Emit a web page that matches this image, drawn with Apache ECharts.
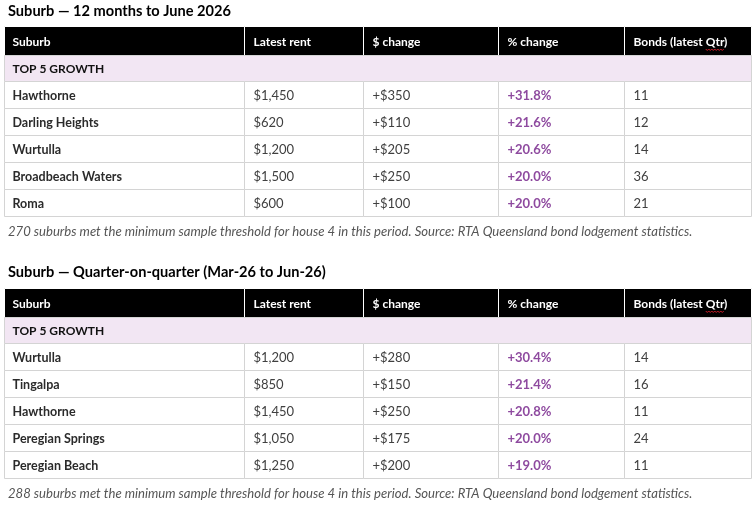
<!DOCTYPE html>
<html>
<head>
<meta charset="utf-8">
<script src="https://cdn.jsdelivr.net/npm/echarts@6/dist/echarts.min.js"></script>
<style>
  html, body { margin: 0; padding: 0; background: #fff; }
  #chart { width: 755px; height: 505px; }
</style>
</head>
<body>
<div id="chart"></div>
<script>
var columns = ['Suburb', 'Latest rent', '$ change', '% change', 'Bonds (latest Qtr)'];
var groupLabel = 'TOP 5 GROWTH';

var annualTitle = 'Suburb \u2014 12 months to June 2026';
var annualSuburbs = ['Hawthorne', 'Darling Heights', 'Wurtulla', 'Broadbeach Waters', 'Roma'];
var annualRent = [1450, 620, 1200, 1500, 600];
var annualDollarChange = [350, 110, 205, 250, 100];
var annualPctChange = [31.8, 21.6, 20.6, 20.0, 20.0];
var annualBonds = [11, 12, 14, 36, 21];
var annualNote = '270 suburbs met the minimum sample threshold for house 4 in this period. Source: RTA Queensland bond lodgement statistics.';

var quarterTitle = 'Suburb \u2014 Quarter-on-quarter (Mar-26 to Jun-26)';
var quarterSuburbs = ['Wurtulla', 'Tingalpa', 'Hawthorne', 'Peregian Springs', 'Peregian Beach'];
var quarterRent = [1200, 850, 1450, 1050, 1250];
var quarterDollarChange = [280, 150, 250, 175, 200];
var quarterPctChange = [30.4, 21.4, 20.8, 20.0, 19.0];
var quarterBonds = [14, 16, 11, 24, 11];
var quarterNote = '288 suburbs met the minimum sample threshold for house 4 in this period. Source: RTA Queensland bond lodgement statistics.';

// table layout: column and row edges in table units (x / y value axes)
var colEdges = [0, 240, 359, 494, 620, 747];
var rowEdges = [0, 29, 55, 82, 109, 136, 163, 190];

var FONT = 'Lato, Carlito, Calibri, sans-serif';
var PURPLE = '#8e4a9f';
var PINK = '#f2e6f3';
var LINE = '#d4d4d4';

var measureCtx = document.createElement('canvas').getContext('2d');
function textWidth(str, font) { measureCtx.font = font; return measureCtx.measureText(str).width; }

function money(v) { return '$' + v.toLocaleString('en-US'); }

// data items: [col, row, text, kind, span]
function buildCells(suburbs, rent, dchg, pchg, bonds) {
  var cells = [];
  columns.forEach(function (c, i) { cells.push([i, 0, c, 'head', 1]); });
  cells.push([0, 1, groupLabel, 'group', 5]);
  suburbs.forEach(function (s, r) {
    var row = r + 2;
    cells.push([0, row, s, 'name', 1]);
    cells.push([1, row, money(rent[r]), 'body', 1]);
    cells.push([2, row, '+' + money(dchg[r]), 'body', 1]);
    cells.push([3, row, '+' + pchg[r].toFixed(1) + '%', 'pct', 1]);
    cells.push([4, row, String(bonds[r]), 'body', 1]);
  });
  return cells;
}

function renderCell(cells, params, api) {
  var col = api.value(0), row = api.value(1);
  var item = cells[params.dataIndex];
  var text = item[2], kind = item[3], span = item[4];
  var tl = api.coord([colEdges[col], rowEdges[row]]);
  var br = api.coord([colEdges[col + span], rowEdges[row + 1]]);
  var x0 = Math.round(tl[0]) + 0.5, x1 = Math.round(br[0]) + 0.5;
  var y0 = Math.round(tl[1]) + 0.5, y1 = Math.round(br[1]) + 0.5;
  var fill = kind === 'head' ? '#000' : (kind === 'group' ? PINK : '#fff');
  var color = '#404040', weight = 'normal', size = 13;
  if (kind === 'head') { color = '#fff'; weight = 'bold'; size = 12; }
  else if (kind === 'group') { color = '#111'; weight = 'bold'; size = 12; }
  else if (kind === 'pct') { color = PURPLE; weight = 'bold'; }
  else if (kind === 'name') { color = '#2b2b2b'; weight = 'bold'; size = 12.5; }
  var font = weight + ' ' + size + 'px ' + FONT;
  var tx = x0 + (col === 0 ? 8 : 9), ty = (y0 + y1) / 2 + 1;
  var children = [
    {
      type: 'rect',
      shape: { x: x0, y: y0, width: x1 - x0, height: y1 - y0 },
      style: { fill: fill, stroke: kind === 'head' ? '#fff' : LINE, lineWidth: 1 }
    },
    {
      type: 'text',
      style: { x: tx, y: ty, text: text, fill: color, font: font, verticalAlign: 'middle', align: 'left' }
    }
  ];
  // spell-check squiggle under "Qtr" in the header
  var q = text.indexOf('Qtr');
  if (kind === 'head' && q >= 0) {
    var sx = tx + textWidth(text.slice(0, q), font);
    var ex = sx + textWidth('Qtr', font);
    var pts = [], up = true;
    for (var px = sx; px <= ex; px += 1.5) { pts.push([px, ty + 7 + (up ? 0 : 1.5)]); up = !up; }
    children.push({ type: 'polyline', shape: { points: pts }, style: { stroke: '#e0202a', lineWidth: 0.9, fill: null } });
  }
  return { type: 'group', children: children };
}

function tableSeries(cells, idx) {
  return {
    type: 'custom',
    xAxisIndex: idx,
    yAxisIndex: idx,
    renderItem: function (params, api) { return renderCell(cells, params, api); },
    encode: { x: 0, y: 1 },
    data: cells,
    silent: true,
    animation: false
  };
}

var annualCells = buildCells(annualSuburbs, annualRent, annualDollarChange, annualPctChange, annualBonds);
var quarterCells = buildCells(quarterSuburbs, quarterRent, quarterDollarChange, quarterPctChange, quarterBonds);

var titleStyle = { fontFamily: FONT, fontSize: 14.6, fontWeight: 'bold', color: '#000' };
var noteStyle = { fontFamily: FONT, fontSize: 13.1, fontStyle: 'italic', fontWeight: 'normal', color: '#555' };

var chart = echarts.init(document.getElementById('chart'));
var option = {
  backgroundColor: '#fff',
  animation: false,
  title: [
    { text: annualTitle, left: 3, top: -1, textStyle: titleStyle },
    { text: annualNote, left: 3, top: 220, textStyle: noteStyle },
    { text: quarterTitle, left: 3, top: 260, textStyle: titleStyle },
    { text: quarterNote, left: 3, top: 482, textStyle: noteStyle }
  ],
  grid: [
    { left: 4, top: 26, width: 747, height: 190 },
    { left: 4, top: 288, width: 747, height: 190 }
  ],
  xAxis: [0, 1].map(function (i) {
    return { gridIndex: i, type: 'value', min: 0, max: 747, show: false };
  }),
  yAxis: [0, 1].map(function (i) {
    return { gridIndex: i, type: 'value', min: 0, max: 190, inverse: true, show: false };
  }),
  series: [tableSeries(annualCells, 0), tableSeries(quarterCells, 1)]
};
chart.setOption(option);
</script>
</body>
</html>
